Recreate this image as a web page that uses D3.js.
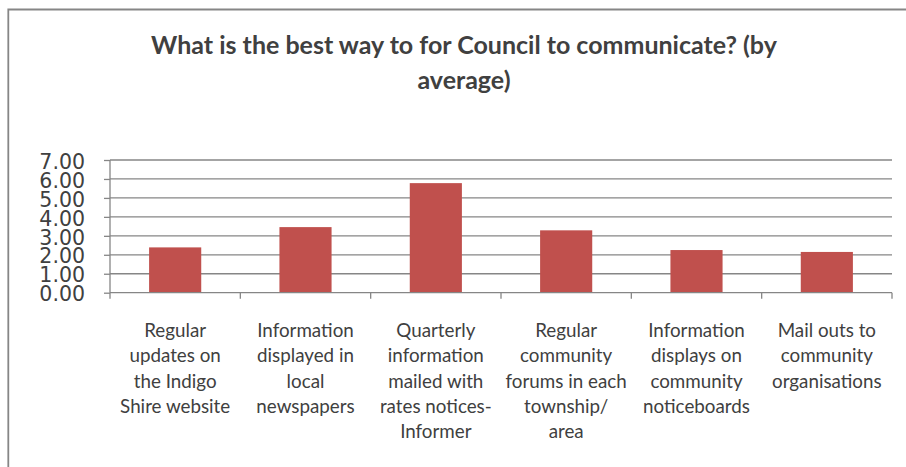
<!DOCTYPE html>
<html>
<head>
<meta charset="utf-8">
<script src="https://cdn.jsdelivr.net/npm/d3@7"></script>
<style>
  html, body { margin: 0; padding: 0; background: #fff; }
  svg { display: block; }
</style>
</head>
<body>
<div id="chart"></div>
<script>
// Survey categories (each label split into its wrapped lines)
const categories = [
  ["Regular", "updates on", "the Indigo", "Shire website"],
  ["Information", "displayed in", "local", "newspapers"],
  ["Quarterly", "information", "mailed with", "rates notices-", "Informer"],
  ["Regular", "community", "forums in each", "township/", "area"],
  ["Information", "displays on", "community", "noticeboards"],
  ["Mail outs to", "community", "organisations"]
];
// Average score per category
const averages = [2.39, 3.46, 5.78, 3.29, 2.25, 2.15];
// Value axis ticks
const yTicks = [0, 1, 2, 3, 4, 5, 6, 7];
const titleLines = ["What is the best way to for Council to communicate? (by", "average)"];

const W = 906, H = 467;
const plotLeft = 110, plotRight = 892, plotTop = 160, plotBottom = 292.7;
const gridColor = "#868686";
const textColor = "#404040";
const barColor = "#C0504D";

const svg = d3.select("#chart").append("svg")
  .attr("width", W).attr("height", H);

svg.append("rect").attr("width", W).attr("height", H).attr("fill", "#fff");

// Outer frame (runs off the right and bottom edges)
svg.append("path")
  .attr("d", `M8.3,${H + 5} V9.5 H${W + 5}`)
  .attr("fill", "none")
  .attr("stroke", gridColor)
  .attr("stroke-width", 1.8);

// Title
svg.append("g").selectAll("text")
  .data(titleLines)
  .join("text")
  .attr("x", 464)
  .attr("y", (d, i) => 53.5 + i * 35)
  .attr("text-anchor", "middle")
  .attr("font-family", "Lato, 'Open Sans', sans-serif")
  .attr("font-weight", "bold")
  .attr("font-size", 25)
  .attr("fill", textColor)
  .text(d => d);

const x = d3.scaleBand()
  .domain(d3.range(categories.length))
  .range([plotLeft, plotRight])
  .padding(0);

const y = d3.scaleLinear()
  .domain([0, 7])
  .range([plotBottom, plotTop]);

// Horizontal gridlines
svg.append("g").selectAll("line")
  .data(yTicks.filter(t => t > 0))
  .join("line")
  .attr("x1", plotLeft).attr("x2", plotRight)
  .attr("y1", d => y(d)).attr("y2", d => y(d))
  .attr("stroke", gridColor)
  .attr("stroke-width", 1.3);

// Bars
const barW = x.bandwidth() * 0.4;
svg.append("g").selectAll("rect")
  .data(averages)
  .join("rect")
  .attr("x", (d, i) => x(i) + (x.bandwidth() - barW) / 2)
  .attr("y", d => y(d))
  .attr("width", barW)
  .attr("height", d => y(0) - y(d))
  .attr("fill", barColor);

// Value axis
const yAxis = d3.axisLeft(y)
  .tickValues(yTicks)
  .tickSize(6)
  .tickPadding(19)
  .tickFormat(d3.format(".2f"));
const gy = svg.append("g")
  .attr("transform", `translate(${plotLeft},0)`)
  .call(yAxis);
gy.select(".domain").attr("stroke", gridColor).attr("stroke-width", 1.3)
  .attr("d", `M0,${y(0)}V${y(7)}`);
gy.selectAll(".tick line").attr("stroke", gridColor).attr("stroke-width", 1.3);
gy.selectAll(".tick text")
  .attr("font-family", "'DejaVu Sans', sans-serif")
  .attr("font-size", 20.5)
  .attr("fill", textColor)
  .attr("dy", "0.4em");

// Category axis: ticks at band boundaries
const boundaries = d3.range(categories.length + 1).map(i => plotLeft + i * x.step());
svg.append("line")
  .attr("x1", plotLeft).attr("x2", plotRight)
  .attr("y1", y(0)).attr("y2", y(0))
  .attr("stroke", gridColor).attr("stroke-width", 1.3);
svg.append("g").selectAll("line")
  .data(boundaries)
  .join("line")
  .attr("x1", d => d).attr("x2", d => d)
  .attr("y1", y(0)).attr("y2", y(0) + 6)
  .attr("stroke", gridColor).attr("stroke-width", 1.3);

// Category labels
const labels = svg.append("g").selectAll("text")
  .data(categories)
  .join("text")
  .attr("text-anchor", "middle")
  .attr("font-family", "Lato, 'Open Sans', sans-serif")
  .attr("font-size", 18.8)
  .attr("fill", textColor);
labels.selectAll("tspan")
  .data((d, i) => d.map(line => ({ line, i })))
  .join("tspan")
  .attr("x", d => x(d.i) + x.bandwidth() / 2)
  .attr("y", (d, j) => 337 + j * 25.3)
  .text(d => d.line);
</script>
</body>
</html>
